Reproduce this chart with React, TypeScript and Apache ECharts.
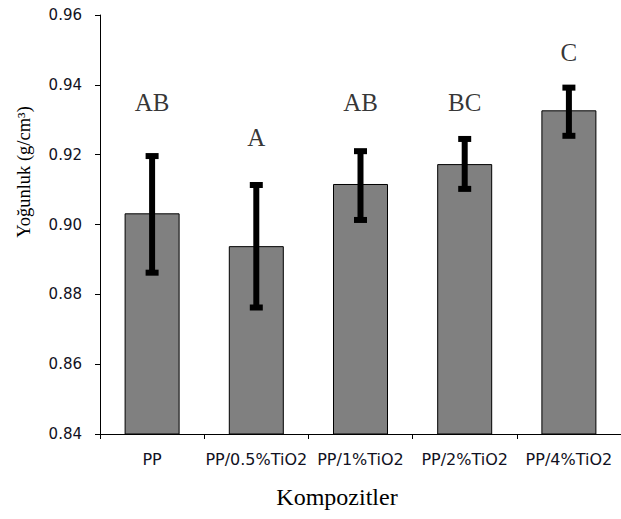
import React, { useEffect, useRef } from "react";
import * as echarts from "echarts";

const categories = ["PP", "PP/0.5%TiO2", "PP/1%TiO2", "PP/2%TiO2", "PP/4%TiO2"];
const means = [0.9032, 0.8938, 0.9116, 0.9173, 0.9327];
const errLow = [0.8862, 0.8762, 0.9013, 0.9102, 0.9254];
const errHigh = [0.9196, 0.9113, 0.921, 0.9245, 0.9392];
const groupLetters = ["AB", "A", "AB", "BC", "C"];
const groupLetterY = [0.9348, 0.9248, 0.9348, 0.935, 0.9493];

export default function App() {
  const ref = useRef<HTMLDivElement>(null);
  useEffect(() => {
    if (!ref.current) return;
    const chart = echarts.init(ref.current, null, { renderer: "svg" });
    const option: any = {
      animation: false,
      backgroundColor: "#ffffff",
      grid: { left: 100, right: -1, top: 15, bottom: 85, containLabel: false },
      xAxis: {
        type: "category",
        data: categories,
        axisLine: { show: true, lineStyle: { color: "#000", width: 1 } },
        axisTick: { show: true, length: 5, lineStyle: { color: "#000" } },
        axisLabel: {
          interval: 0,
          margin: 17,
          fontFamily: "DejaVu Sans",
          fontSize: 16,
          color: "#111122",
        },
      },
      yAxis: {
        type: "value",
        min: 0.84,
        max: 0.96,
        interval: 0.02,
        splitLine: { show: false },
        axisLine: { show: true, lineStyle: { color: "#000", width: 1 } },
        axisTick: { show: true, length: 5, lineStyle: { color: "#000" } },
        axisLabel: {
          margin: 18,
          fontFamily: "DejaVu Sans",
          fontSize: 15,
          color: "#111122",
          formatter: (v: number) => v.toFixed(2),
        },
      },
      graphic: [
        {
          type: "text",
          x: 24,
          y: 172,
          rotation: Math.PI / 2,
          style: {
            text: "Yoğunluk (g/cm³)",
            font: "18.5px 'Liberation Serif'",
            fill: "#000",
            align: "center",
            verticalAlign: "middle",
          },
        },
        {
          type: "text",
          x: 337,
          y: 497,
          style: {
            text: "Kompozitler",
            font: "24px 'Liberation Serif'",
            fill: "#000",
            align: "center",
            verticalAlign: "middle",
          },
        },
      ],
      series: [
        {
          type: "bar",
          data: means,
          barWidth: 55,
          itemStyle: { color: "#808080", borderColor: "#000", borderWidth: 1 },
          z: 2,
        },
        {
          type: "custom",
          data: categories.map((_, i) => [i, errLow[i], errHigh[i]]),
          z: 5,
          renderItem: (params: any, api: any) => {
            const i = api.value(0);
            const lo = api.coord([i, api.value(1)]);
            const hi = api.coord([i, api.value(2)]);
            const x = hi[0];
            const capW = 13;
            const capH = 6;
            return {
              type: "group",
              children: [
                {
                  type: "line",
                  shape: { x1: x, y1: hi[1], x2: x, y2: lo[1] },
                  style: { stroke: "#000", lineWidth: 6 },
                },
                {
                  type: "rect",
                  shape: { x: x - capW / 2, y: hi[1] - capH / 2, width: capW, height: capH },
                  style: { fill: "#000" },
                },
                {
                  type: "rect",
                  shape: { x: x - capW / 2, y: lo[1] - capH / 2, width: capW, height: capH },
                  style: { fill: "#000" },
                },
              ],
            };
          },
        },
        {
          type: "scatter",
          data: categories.map((_, i) => [i, groupLetterY[i]]),
          symbolSize: 0,
          z: 6,
          label: {
            show: true,
            position: "inside",
            formatter: (p: any) => groupLetters[p.dataIndex],
            fontFamily: "Liberation Serif",
            fontSize: 25,
            color: "#000",
          },
        },
      ],
    };
    chart.setOption(option);
    return () => chart.dispose();
  }, []);
  return (
    <div
      ref={ref}
      style={{ position: "fixed", left: 0, top: 0, width: 621, height: 519 }}
    />
  );
}
